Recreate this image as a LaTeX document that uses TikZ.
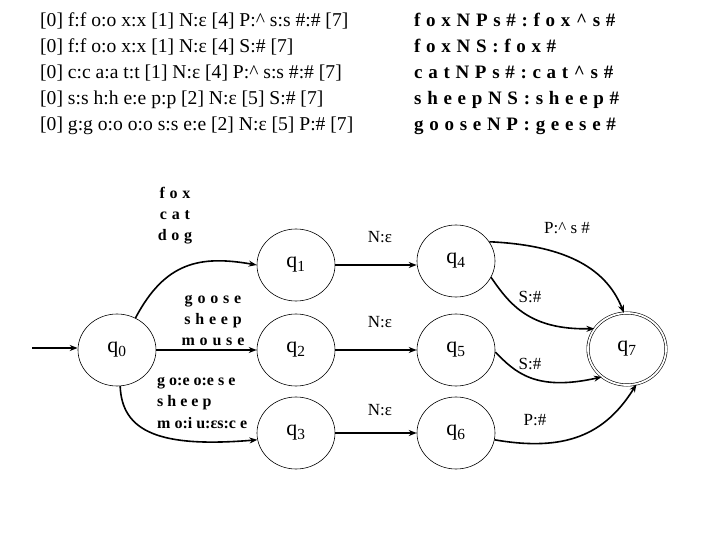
\documentclass[tikz,border=0pt]{standalone}
\usepackage{fontspec}
\setmainfont{Liberation Serif}
\newfontfamily\spaced[LetterSpace=30]{Liberation Serif}
\usetikzlibrary{shapes.geometric,arrows.meta}
\begin{document}
\begin{tikzpicture}[x=1pt,y=-1pt,
  state/.style={ellipse,draw,line width=0.6pt,minimum width=78pt,minimum height=72pt,inner sep=0pt,font=\fontsize{22}{24}\selectfont},
  final/.style={state,double,double distance=1.8pt},
  edge/.style={line width=1.6pt,-{Stealth[length=8pt,width=6pt]}},
  lab/.style={font=\fontsize{17}{19}\selectfont,inner sep=0pt},
  words/.style={font=\fontsize{16}{21}\selectfont\spaced\bfseries,inner sep=0pt,align=center},
  plainwords/.style={font=\fontsize{16}{21.5}\selectfont\bfseries,inner sep=0pt,align=left},
  rule/.style={font=\fontsize{19.6}{26}\selectfont,inner sep=0pt,anchor=north west,align=left}]
\useasboundingbox (0,0) rectangle (720,540);
\node[rule] (rules) at (40,13) {[0] f:f o:o x:x [1] N:ε [4] P:\^{} s:s \#:\# [7]\\%
{}[0] f:f o:o x:x [1] N:ε [4] S:\# [7]\\%
{}[0] c:c a:a t:t [1] N:ε [4] P:\^{} s:s \#:\# [7]\\%
{}[0] s:s h:h e:e p:p [2] N:ε [5] S:\# [7]\\%
{}[0] g:g o:o o:o s:s e:e [2] N:ε [5] P:\# [7]};
\node[rule,font=\fontsize{19}{26}\selectfont\spaced\bfseries] (pairs) at (414,13) {foxNPs\#:fox\^{}s\#\\
foxNS:fox\#\\
catNPs\#:cat\^{}s\#\\
sheepNS:sheep\#\\
gooseNP:geese\#};
\node[state] (q0) at (117,350) {q\textsubscript{0}};
\node[state] (q1) at (296,265) {q\textsubscript{1}};
\node[state] (q2) at (296,350) {q\textsubscript{2}};
\node[state] (q3) at (296,433) {q\textsubscript{3}};
\node[state] (q4) at (456,261) {q\textsubscript{4}};
\node[state] (q5) at (456,350) {q\textsubscript{5}};
\node[state] (q6) at (456,433) {q\textsubscript{6}};
\node[final] (q7) at (627,349) {q\textsubscript{7}};
\coordinate (in) at (32,348);
\draw[edge] (in) -- (q0.west |- in);
\draw[edge] (q0.60) .. controls (165,262) and (200,255) .. (q1.west);
\draw[edge] (q0) -- (q2);
\draw[edge] (q0.-85) .. controls (122,432) and (160,448) .. (q3.190);
\draw[edge] (q1) -- (q4.west |- q1);
\draw[edge] (q2) -- (q5);
\draw[edge] (q3) -- (q6);
\draw[edge] (q4.30) .. controls (560,245) and (605,265) .. (q7.95);
\draw[edge] (q4.-25) .. controls (510,305) and (530,330) .. (q7.148);
\draw[edge] (q5.-3) .. controls (515,372) and (535,392) .. (q7.-132);
\draw[edge] (q6.-10) .. controls (565,452) and (605,435) .. (q7.-75);
\node[words] (w1) at (175,216) {fox\\cat\\dog};
\node[words] (w2) at (213,320) {goose\\sheep\\mouse};
\node[plainwords,anchor=west] (w3) at (157,403) {g o:e o:e s e\\s h e e p\\m o:i u:εs:c e};
\node[lab] (n1) at (380,237) {N:ε};
\node[lab] (n2) at (380,322) {N:ε};
\node[lab] (n3) at (380,410) {N:ε};
\node[lab] (p1) at (567,228) {P:\^{} s \#};
\node[lab] (s1) at (530,297) {S:\#};
\node[lab] (s2) at (530,364) {S:\#};
\node[lab] (p2) at (535,420) {P:\#};
\end{tikzpicture}
\end{document}
